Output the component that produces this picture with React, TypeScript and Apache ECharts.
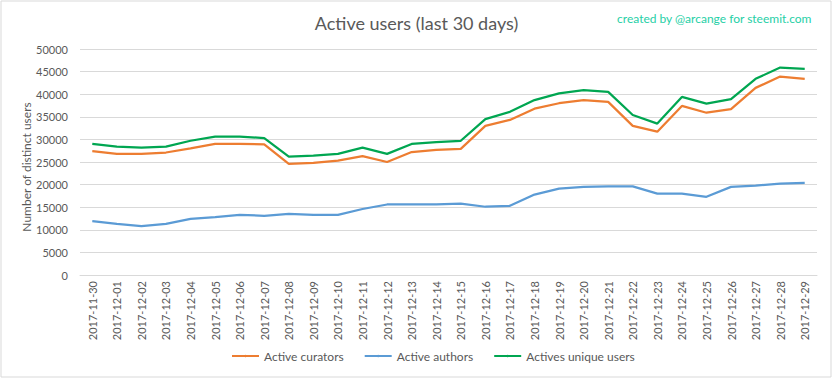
import React, { useEffect, useRef } from "react";
import * as echarts from "echarts";

const dates = [
  "2017-11-30", "2017-12-01", "2017-12-02", "2017-12-03", "2017-12-04", "2017-12-05",
  "2017-12-06", "2017-12-07", "2017-12-08", "2017-12-09", "2017-12-10", "2017-12-11",
  "2017-12-12", "2017-12-13", "2017-12-14", "2017-12-15", "2017-12-16", "2017-12-17",
  "2017-12-18", "2017-12-19", "2017-12-20", "2017-12-21", "2017-12-22", "2017-12-23",
  "2017-12-24", "2017-12-25", "2017-12-26", "2017-12-27", "2017-12-28", "2017-12-29",
];

const activeCurators = [
  27400, 26800, 26800, 27100, 28000, 29000, 29000, 28900, 24600, 24800,
  25300, 26300, 25000, 27200, 27700, 27900, 33000, 34300, 36800, 38000,
  38700, 38300, 33000, 31700, 37400, 35900, 36700, 41400, 43900, 43400,
];

const activeAuthors = [
  11900, 11300, 10800, 11300, 12400, 12800, 13300, 13100, 13500, 13300,
  13300, 14600, 15600, 15600, 15600, 15800, 15100, 15300, 17800, 19100,
  19500, 19600, 19600, 18000, 18000, 17300, 19500, 19800, 20200, 20400,
];

const uniqueUsers = [
  29000, 28400, 28200, 28400, 29700, 30600, 30600, 30300, 26200, 26400,
  26800, 28200, 26800, 29000, 29400, 29700, 34500, 36100, 38700, 40200,
  40900, 40500, 35400, 33500, 39400, 37900, 38900, 43400, 45900, 45600,
];

const FONT = "Lato, 'Open Sans', sans-serif";

export default function App() {
  const ref = useRef<HTMLDivElement>(null);
  useEffect(() => {
    if (!ref.current) return;
    const chart = echarts.init(ref.current, undefined, { renderer: "svg" });
    const mkSeries = (name: string, data: number[], color: string) => ({
      name,
      type: "line",
      data,
      symbol: "none",
      lineStyle: { color, width: 2.25 },
      itemStyle: { color },
    });
    chart.setOption({
      animation: false,
      backgroundColor: "#ffffff",
      textStyle: { fontFamily: FONT },
      title: [
        {
          text: "Active users (last 30 days)",
          left: "center",
          top: 9,
          textStyle: { fontFamily: FONT, fontSize: 18, fontWeight: "normal", color: "#595959" },
        },
        {
          text: "created by @arcange for steemit.com",
          right: 16,
          top: 7,
          textStyle: { fontFamily: FONT, fontSize: 12, fontWeight: "normal", color: "#26cfa6" },
        },
      ],
      legend: {
        bottom: 12,
        left: 226,
        itemWidth: 27,
        itemHeight: 3,
        itemGap: 20,
        textStyle: { fontFamily: FONT, fontSize: 12, color: "#595959" },
        data: ["Active curators", "Active authors", "Actives unique users"],
      },
      grid: { left: 80, right: 16, top: 49, bottom: 104 },
      xAxis: {
        type: "category",
        data: dates,
        boundaryGap: true,
        axisLine: { lineStyle: { color: "#d9d9d9" } },
        axisTick: { show: false },
        axisLabel: {
          rotate: 90,
          interval: 0,
          color: "#595959",
          fontSize: 11,
          fontFamily: FONT,
          margin: 6,
        },
      },
      yAxis: {
        type: "value",
        min: 0,
        max: 50000,
        interval: 5000,
        axisLine: { show: false },
        axisTick: { show: false },
        axisLabel: {
          color: "#595959",
          fontSize: 11,
          fontFamily: FONT,
          margin: 12,
          formatter: (v: number) => String(v),
        },
        splitLine: { lineStyle: { color: "#d9d9d9", width: 1 } },
      },
      graphic: [
        {
          type: "rect",
          shape: { x: 1, y: 1, width: 830, height: 376 },
          style: { fill: "none", stroke: "#d9d9d9", lineWidth: 1 },
          silent: true,
        },
        {
          type: "text",
          x: 26,
          y: 167,
          rotation: Math.PI / 2,
          style: {
            text: "Number of distinct users",
            fontFamily: FONT,
            fontSize: 12,
            fill: "#595959",
            align: "center",
            verticalAlign: "middle",
          },
          silent: true,
        },
      ],
      series: [
        mkSeries("Active curators", activeCurators, "#ed7d31"),
        mkSeries("Active authors", activeAuthors, "#5b9bd5"),
        mkSeries("Actives unique users", uniqueUsers, "#00a651"),
      ],
    });
    return () => chart.dispose();
  }, []);
  return (
    <div
      ref={ref}
      style={{ position: "fixed", left: 0, top: 0, width: 833, height: 379 }}
    />
  );
}
